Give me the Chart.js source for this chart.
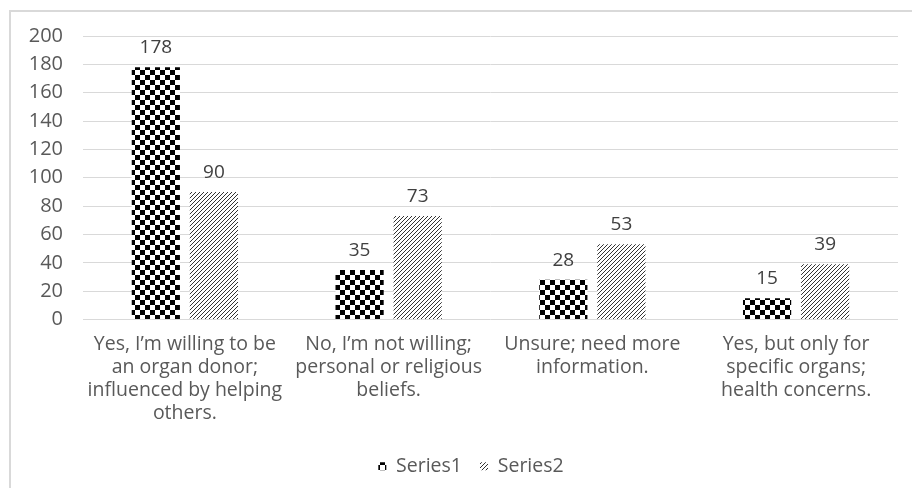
<!DOCTYPE html>
<html lang="en">
<head>
    <meta charset="UTF-8">
    <title>Organ donor survey</title>
    <script src="https://cdn.jsdelivr.net/npm/chart.js"></script>
    <style>
        body {
            margin: 0;
            background: #fff;
            overflow: hidden;
        }
        .frame {
            position: absolute;
            left: 9px;
            top: 10px;
            width: 940px;
            height: 520px;
            border: 2px solid #d9d9d9;
        }
        .wrap {
            position: absolute;
            left: 0;
            top: 0;
            width: 912px;
            height: 488px;
        }
    </style>
</head>
<body>
    <div class="frame"></div>
    <div class="wrap">
        <canvas id="chart" width="912" height="488"></canvas>
    </div>

<script>
    // categories (multi-line labels) and values
    const categories = [
        ['Yes, I\u2019m willing to be', 'an organ donor;', 'influenced by helping', 'others.'],
        ['No, I\u2019m not willing;', 'personal or religious', 'beliefs.'],
        ['Unsure; need more', 'information.'],
        ['Yes, but only for', 'specific organs;', 'health concerns.']
    ];
    const series1 = [178, 35, 28, 15];
    const series2 = [90, 73, 53, 39];
    const yTicks = [0, 20, 40, 60, 80, 100, 120, 140, 160, 180, 200];

    const FONT = '"Open Sans", Lato, sans-serif';

    // checkerboard pattern for Series1
    function checkerPattern() {
        const c = document.createElement('canvas');
        c.width = 10; c.height = 10;
        const g = c.getContext('2d');
        g.fillStyle = '#fff';
        g.fillRect(0, 0, 10, 10);
        g.fillStyle = '#000';
        g.fillRect(0, 0, 5, 5);
        g.fillRect(5, 5, 5, 5);
        return g.createPattern(c, 'repeat');
    }

    // upward diagonal hatch for Series2
    function hatchPattern() {
        const s = 4;
        const c = document.createElement('canvas');
        c.width = s; c.height = s;
        const g = c.getContext('2d');
        g.fillStyle = '#fff';
        g.fillRect(0, 0, s, s);
        g.strokeStyle = '#333';
        g.lineWidth = 1;
        g.beginPath();
        g.moveTo(-1, s + 1); g.lineTo(s + 1, -1);
        g.moveTo(-1, 1); g.lineTo(1, -1);
        g.moveTo(s - 1, s + 1); g.lineTo(s + 1, s - 1);
        g.stroke();
        return g.createPattern(c, 'repeat');
    }

    // value labels above bars
    const valueLabels = {
        id: 'valueLabels',
        afterDatasetsDraw(chart) {
            const ctx = chart.ctx;
            ctx.save();
            ctx.font = '19px ' + FONT;
            ctx.fillStyle = '#404040';
            ctx.textAlign = 'center';
            ctx.textBaseline = 'alphabetic';
            chart.data.datasets.forEach((ds, i) => {
                chart.getDatasetMeta(i).data.forEach((bar, j) => {
                    ctx.fillText(ds.data[j], bar.x, bar.y - 14);
                });
            });
            ctx.restore();
        }
    };

    // the original frame is wider than the picture, so its legend sits right of centre
    const legendShift = {
        id: 'legendShift',
        afterLayout(chart) {
            chart.legend.left += 22;
            chart.legend.right += 22;
        }
    };

    const ctx = document.getElementById('chart').getContext('2d');
    new Chart(ctx, {
        type: 'bar',
        data: {
            labels: categories,
            datasets: [
                { label: 'Series1', data: series1, backgroundColor: checkerPattern() },
                { label: 'Series2', data: series2, backgroundColor: hatchPattern() }
            ]
        },
        options: {
            responsive: false,
            animation: false,
            barPercentage: 0.83,
            categoryPercentage: 0.57,
            layout: { padding: { top: 36, right: 14, left: 0, bottom: 2 } },
            plugins: {
                legend: {
                    position: 'bottom',
                    labels: {
                        boxWidth: 8,
                        boxHeight: 8,
                        padding: 18,
                        color: '#595959',
                        font: { family: FONT, size: 19.5 }
                    }
                },
                tooltip: { enabled: false }
            },
            scales: {
                x: {
                    afterFit: s => { s.height = 119; },
                    grid: { display: false, drawTicks: false },
                    border: { display: false },
                    ticks: {
                        color: '#595959',
                        font: { family: FONT, size: 19.5, lineHeight: 1.18 },
                        maxRotation: 0,
                        autoSkip: false,
                        padding: 13
                    }
                },
                y: {
                    min: 0,
                    max: 200,
                    afterBuildTicks: s => { s.ticks = yTicks.map(v => ({ value: v })); },
                    afterFit: s => { s.width = 83; },
                    grid: { color: '#d9d9d9', lineWidth: 1, drawTicks: false },
                    border: { display: false },
                    ticks: {
                        color: '#595959',
                        font: { family: FONT, size: 20 },
                        padding: 20
                    }
                }
            }
        },
        plugins: [valueLabels, legendShift]
    });
</script>
</body>
</html>
